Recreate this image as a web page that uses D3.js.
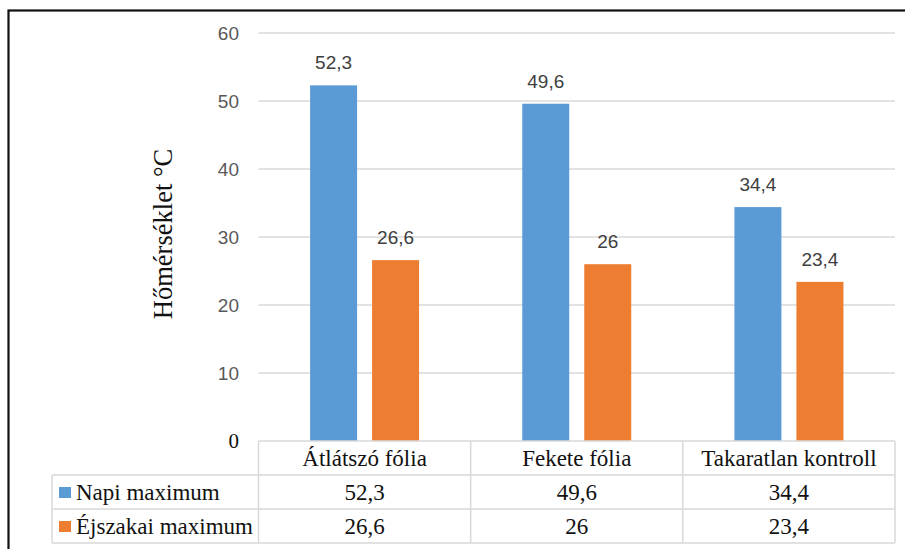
<!DOCTYPE html>
<html>
<head>
<meta charset="utf-8">
<script src="https://cdn.jsdelivr.net/npm/d3@7"></script>
<style>
  body { margin: 0; background: #fff; }
  svg { display: block; }
</style>
</head>
<body>
<div id="chart"></div>
<script>
// chart data
var categories = ["Átlátszó fólia", "Fekete fólia", "Takaratlan kontroll"];
var seriesNames = ["Napi maximum", "Éjszakai maximum"];
var napiMax = [52.3, 49.6, 34.4];
var ejszakaiMax = [26.6, 26, 23.4];
var yTicks = [0, 10, 20, 30, 40, 50, 60];
var seriesColors = ["#5b9bd5", "#ed7d31"];

var seriesValues = [napiMax, ejszakaiMax];

var width = 905, height = 549;
var plot = {left: 258.5, right: 895, top: 33, bottom: 441};
var rowH = 34;
var legendLeft = 52;

var svg = d3.select("#chart")
  .append("svg")
    .attr("width", width)
    .attr("height", height);

// outer frame (only top and left edges are visible)
svg.append("rect")
    .attr("x", 8.5)
    .attr("y", 10.5)
    .attr("width", 1000)
    .attr("height", 1000)
    .attr("fill", "none")
    .attr("stroke", "#111")
    .attr("stroke-width", 2.2);

var y = d3.scaleLinear()
    .domain([0, 60])
    .range([plot.bottom, plot.top]);

var x0 = d3.scaleBand()
    .domain(categories)
    .range([plot.left, plot.right]);

// two bars of 47px with a 15px gap, centred in each category
var groupW = 109;
var x1 = d3.scaleBand()
    .domain(seriesNames)
    .range([0, groupW])
    .paddingInner(2 - groupW / 62);
var groupOffset = (x0.bandwidth() - groupW) / 2;

// gridlines
svg.append("g")
  .selectAll("line")
  .data(yTicks.filter(function(d) { return d > 0; }))
  .enter()
  .append("line")
    .attr("x1", plot.left)
    .attr("x2", plot.right)
    .attr("y1", function(d) { return y(d); })
    .attr("y2", function(d) { return y(d); })
    .attr("stroke", "#d9d9d9")
    .attr("stroke-width", 1.3);

// y axis tick labels
svg.append("g")
  .selectAll("text")
  .data(yTicks)
  .enter()
  .append("text")
    .attr("x", 239)
    .attr("y", function(d) { return y(d); })
    .attr("dy", "0.35em")
    .attr("text-anchor", "end")
    .attr("font-family", function(d) { return d === 0 ? "Liberation Serif, serif" : "Liberation Sans, sans-serif"; })
    .attr("font-size", function(d) { return d === 0 ? "21px" : "19px"; })
    .attr("fill", function(d) { return d === 0 ? "#111" : "#595959"; })
    .text(function(d) { return d; });

// axis title
svg.append("text")
    .attr("transform", "translate(172,234) rotate(-90)")
    .attr("text-anchor", "middle")
    .attr("font-family", "Liberation Serif, serif")
    .attr("font-size", "26.5px")
    .attr("fill", "#111")
    .text("Hőmérséklet °C");

// bars
var groups = svg.append("g")
  .selectAll("g")
  .data(seriesNames)
  .enter()
  .append("g")
    .attr("fill", function(d, i) { return seriesColors[i]; });

groups.selectAll("rect")
  .data(function(s, si) {
      return categories.map(function(c, ci) { return {cat: c, series: s, value: seriesValues[si][ci]}; });
  })
  .enter()
  .append("rect")
    .attr("x", function(d) { return x0(d.cat) + groupOffset + x1(d.series); })
    .attr("y", function(d) { return y(d.value); })
    .attr("width", x1.bandwidth())
    .attr("height", function(d) { return y(0) - y(d.value); });

function fmt(v) { return String(v).replace(".", ","); }

// data labels
groups.selectAll("text")
  .data(function(s, si) {
      return categories.map(function(c, ci) { return {cat: c, series: s, value: seriesValues[si][ci]}; });
  })
  .enter()
  .append("text")
    .attr("x", function(d) { return x0(d.cat) + groupOffset + x1(d.series) + x1.bandwidth() / 2; })
    .attr("y", function(d) { return y(d.value) - 16; })
    .attr("text-anchor", "middle")
    .attr("font-family", "Liberation Sans, sans-serif")
    .attr("font-size", "19px")
    .attr("fill", "#404040")
    .text(function(d) { return fmt(d.value); });

// data table
var table = svg.append("g")
    .attr("stroke", "#d9d9d9")
    .attr("stroke-width", 1.5)
    .attr("fill", "none");

var tableBottom = plot.bottom + rowH * 3;

// horizontal lines
table.append("line")
    .attr("x1", plot.left).attr("x2", plot.right)
    .attr("y1", plot.bottom).attr("y2", plot.bottom);
[1, 2, 3].forEach(function(r) {
    table.append("line")
        .attr("x1", legendLeft).attr("x2", plot.right)
        .attr("y1", plot.bottom + rowH * r).attr("y2", plot.bottom + rowH * r);
});
// vertical lines
table.append("line")
    .attr("x1", legendLeft).attr("x2", legendLeft)
    .attr("y1", plot.bottom + rowH).attr("y2", tableBottom);
categories.forEach(function(c) {
    table.append("line")
        .attr("x1", x0(c)).attr("x2", x0(c))
        .attr("y1", plot.bottom).attr("y2", tableBottom);
});
table.append("line")
    .attr("x1", plot.right).attr("x2", plot.right)
    .attr("y1", plot.bottom).attr("y2", tableBottom);

var tableFont = "Liberation Serif, serif";

// header row
svg.append("g")
  .selectAll("text")
  .data(categories)
  .enter()
  .append("text")
    .attr("x", function(d) { return x0(d) + x0.bandwidth() / 2; })
    .attr("y", plot.bottom + rowH / 2)
    .attr("dy", "0.35em")
    .attr("text-anchor", "middle")
    .attr("font-family", tableFont)
    .attr("font-size", "23px")
    .attr("fill", "#111")
    .text(function(d) { return d; });

// series rows
var rows = svg.append("g")
  .selectAll("g")
  .data(seriesNames)
  .enter()
  .append("g")
    .attr("transform", function(d, i) { return "translate(0," + (plot.bottom + rowH * (i + 1) + rowH / 2) + ")"; });

rows.append("rect")
    .attr("x", 59)
    .attr("y", -5)
    .attr("width", 12)
    .attr("height", 11)
    .attr("fill", function(d, i) { return seriesColors[i]; });

rows.append("text")
    .attr("x", 76)
    .attr("dy", "0.35em")
    .attr("font-family", tableFont)
    .attr("font-size", "23px")
    .attr("fill", "#111")
    .text(function(d) { return d; });

rows.selectAll(".val")
  .data(function(s, si) { return seriesValues[si]; })
  .enter()
  .append("text")
    .attr("class", "val")
    .attr("x", function(d, i) { return x0(categories[i]) + x0.bandwidth() / 2; })
    .attr("dy", "0.35em")
    .attr("text-anchor", "middle")
    .attr("font-family", tableFont)
    .attr("font-size", "23px")
    .attr("fill", "#111")
    .text(function(d) { return fmt(d); });
</script>
</body>
</html>
